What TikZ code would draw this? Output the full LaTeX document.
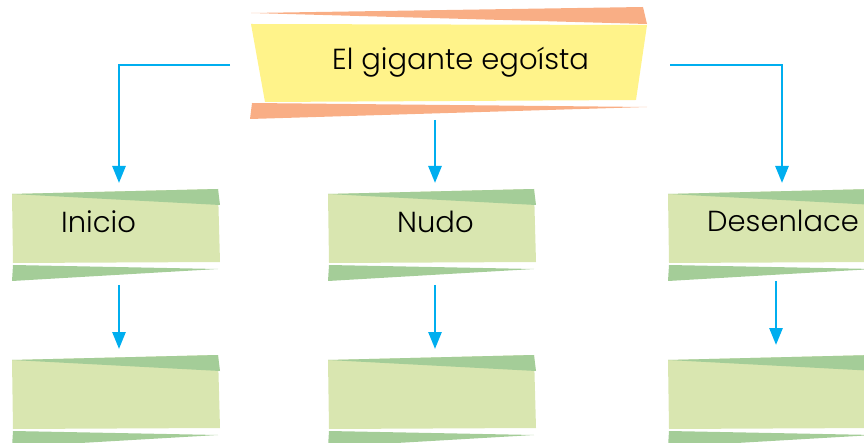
\documentclass[tikz,border=0pt]{standalone}
\usepackage{fontspec}
\setmainfont{Poppins}[UprightFont=* Light]
\usepackage{tikz}
\usetikzlibrary{arrows.meta}
\definecolor{naranja}{HTML}{F9AE85}
\definecolor{amarillo}{HTML}{FFF38A}
\definecolor{verdeclaro}{HTML}{D9E6B0}
\definecolor{verdeoscuro}{HTML}{A4CD98}
\definecolor{azul}{HTML}{00AEEF}

\begin{document}
\begin{tikzpicture}[x=1pt,y=-1pt,
  flecha/.style={azul,line width=2.7pt,-{Triangle[length=17pt,width=13pt]}},
  texto/.style={anchor=base west,inner sep=0pt,font=\fontsize{29}{34}\selectfont}]
\useasboundingbox (0,0) rectangle (864,443);
% titulo
\fill[naranja] (251,13) -- (643,7) -- (647,24) -- cycle;
\fill[amarillo] (251,24) -- (647,25) -- (636,100) -- (265,102) -- cycle;
\fill[naranja] (252,103) -- (250,119) -- (647,107) -- cycle;
% cajas verdes
\foreach \x/\y in {12/194, 328/194, 668/194, 12/360, 328/360, 668/360} {
  \begin{scope}[shift={(\x,\y)}]
    \fill[verdeclaro] (0,0) -- (206,-5) -- (208,68) -- (1,69) -- cycle;
    \fill[verdeoscuro] (0,0) -- (206,-5) -- (208,11) -- cycle;
    \fill[verdeoscuro] (1,71) -- (0,87) -- (206,75) -- cycle;
  \end{scope}
}
\node[texto] (titulo) at (332,70) {El gigante egoísta};
\node[texto] (inicio) at (61,233) {Inicio};
\node[texto] (nudo) at (397,233) {Nudo};
\node[texto] (desenlace) at (707,232) {Desenlace};
% flechas
\coordinate (A) at (230,65);
\coordinate (B) at (119,183);
\coordinate (C) at (435,120);
\coordinate (D) at (435,183);
\coordinate (E) at (670,65);
\coordinate (F) at (782,183);
\draw[flecha] (A) -| (B);
\draw[flecha] (C) -- (D);
\draw[flecha] (E) -| (F);
\coordinate (G) at (119,285);
\coordinate (H) at (119,349);
\coordinate (I) at (435,285);
\coordinate (J) at (435,349);
\coordinate (K) at (776,281);
\coordinate (L) at (776,345);
\draw[flecha] (G) -- (H);
\draw[flecha] (I) -- (J);
\draw[flecha] (K) -- (L);
\end{tikzpicture}
\end{document}
